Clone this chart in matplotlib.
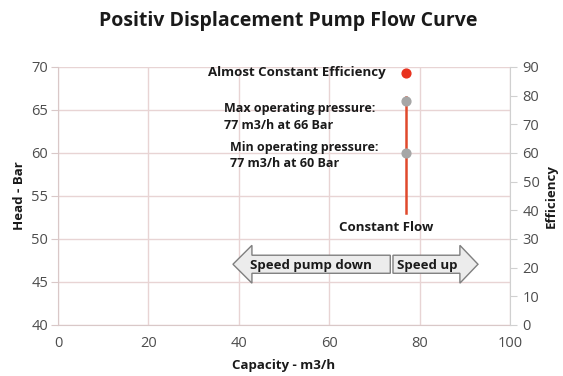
import matplotlib
matplotlib.use("Agg")
import matplotlib.pyplot as plt
from matplotlib.patches import Polygon

plt.rcParams['font.family'] = ['Open Sans', 'DejaVu Sans']

# Operating data
flow_rate = 77                 # m3/h, constant flow of the pump
head_points = [66, 60]         # max / min operating pressure, Bar
flow_line_head = [53, 66.5]    # extent of the constant-flow line, Bar
efficiency_point = 88          # efficiency, %

x_ticks = [0, 20, 40, 60, 80, 100]
head_ticks = [40, 45, 50, 55, 60, 65, 70]
eff_ticks = [0, 10, 20, 30, 40, 50, 60, 70, 80, 90]

tick_color = '#4d4d4d'
grid_color = '#e8d4d4'
text_color = '#1a1a1a'

fig = plt.figure(figsize=(5.63, 3.76), dpi=100)
ax = fig.add_axes([0.103, 0.136, 0.803, 0.686])
ax2 = ax.twinx()

ax.set_xlim(0, 100)
ax.set_ylim(40, 70)
ax2.set_ylim(0, 90)
ax.set_xticks(x_ticks)
ax.set_yticks(head_ticks)
ax2.set_yticks(eff_ticks)

ax.grid(True, color=grid_color, linewidth=1.0)
ax.set_axisbelow(True)
for a in (ax, ax2):
    for s in a.spines.values():
        s.set_visible(False)
ax.spines['left'].set_visible(True)
ax.spines['left'].set_color('#d9c8c8')
ax.spines['bottom'].set_visible(True)
ax.spines['bottom'].set_color('#d9c8c8')
ax2.spines['right'].set_visible(True)
ax2.spines['right'].set_color('#d0d0d0')

ax.tick_params(axis='x', length=0, pad=8, labelsize=10.5, labelcolor=tick_color)
ax.tick_params(axis='y', length=5, color='#d9c8c8', pad=2, labelsize=10.5, labelcolor=tick_color)
ax2.tick_params(axis='y', length=5, color='#d0d0d0', pad=4, labelsize=10.5, labelcolor=tick_color)

# Constant flow line and operating points
ax.plot([flow_rate, flow_rate], flow_line_head, color='#e0492c', linewidth=1.8, zorder=3)
ax.scatter([flow_rate] * len(head_points), head_points, s=40, color='#a6a6a6', zorder=4)
ax2.scatter([flow_rate], [efficiency_point], s=40, color='#e8321e', zorder=4)

fw = 'bold'
fs = 9.5
ax.text(72.5, 69.3, 'Almost Constant Efficiency', ha='right', va='center',
        fontsize=fs, fontweight=fw, color=text_color)
ax.text(36.7, 64.2, 'Max operating pressure:\n77 m3/h at 66 Bar', ha='left', va='center',
        fontsize=fs - 0.5, fontweight=fw, color=text_color, linespacing=1.35)
ax.text(38.0, 59.7, 'Min operating pressure:\n77 m3/h at 60 Bar', ha='left', va='center',
        fontsize=fs - 0.5, fontweight=fw, color=text_color, linespacing=1.35)
ax.text(72.5, 51.3, 'Constant Flow', ha='center', va='center',
        fontsize=fs, fontweight=fw, color=text_color)


def block_arrow(x_tail, x_neck, x_tip, y_mid, body_h, head_h):
    yb0, yb1 = y_mid - body_h / 2, y_mid + body_h / 2
    yh0, yh1 = y_mid - head_h / 2, y_mid + head_h / 2
    pts = [(x_tail, yb0), (x_neck, yb0), (x_neck, yh0), (x_tip, y_mid),
           (x_neck, yh1), (x_neck, yb1), (x_tail, yb1)]
    return Polygon(pts, closed=True, facecolor='#ececec', edgecolor='#7f7f7f',
                   linewidth=1.0, zorder=3, clip_on=False)


ax.add_patch(block_arrow(73.5, 42.9, 38.7, 47.05, 2.1, 4.4))
ax.add_patch(block_arrow(74.1, 88.9, 92.9, 47.05, 2.1, 4.4))
ax.text(56.0, 46.95, 'Speed pump down', ha='center', va='center',
        fontsize=fs, fontweight=fw, color=text_color, zorder=5)
ax.text(81.6, 46.95, 'Speed up', ha='center', va='center',
        fontsize=fs, fontweight=fw, color=text_color, zorder=5)

ax.set_xlabel('Capacity - m3/h', fontsize=fs, fontweight=fw, color=text_color, labelpad=6)
ax.set_ylabel('Head - Bar', fontsize=fs, fontweight=fw, color=text_color, labelpad=4)
ax2.set_ylabel('Efficiency', fontsize=fs, fontweight=fw, color=text_color, labelpad=4)

fig.text(0.512, 0.945, 'Positiv Displacement Pump Flow Curve', ha='center', va='center',
         fontsize=14, fontweight='bold', color=text_color)

fig.savefig('out.png', dpi=100, facecolor='white')
